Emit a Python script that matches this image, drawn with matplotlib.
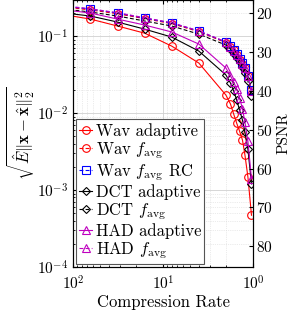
import numpy as np
import matplotlib
matplotlib.use("Agg")
import matplotlib.pyplot as plt

plt.rcParams['font.family'] = ['cmr10', 'DejaVu Serif']
plt.rcParams['mathtext.fontset'] = 'cm'
plt.rcParams['axes.formatter.use_mathtext'] = True

# compression rates (128 point lies outside the x range, lines run off the edge)
cr = [128, 64, 32, 16, 8, 4, 2, 1.78, 1.64, 1.52, 1.41, 1.31, 1.23, 1.14, 1.04]

# error values
wav_adaptive = [0.19, 0.166, 0.135, 0.109, 0.074, 0.0446, 0.0171, 0.0131, 0.0097,
                0.0074, 0.0058, 0.00446, 0.00285, 0.00148, 0.00047]
wav_favg = [0.24, 0.218, 0.195, 0.168, 0.145, 0.114, 0.082, 0.073, 0.065,
            0.057, 0.049, 0.044, 0.038, 0.030, 0.0197]
wav_favg_rc = [0.245, 0.224, 0.199, 0.171, 0.148, 0.116, 0.0835, 0.0741, 0.0658,
               0.0583, 0.0502, 0.0446, 0.0384, 0.0303, 0.0199]
dct_adaptive = [0.20, 0.182, 0.152, 0.123, 0.097, 0.0638, 0.0312, 0.0245, 0.0193,
                0.0148, 0.0109, 0.0081, 0.00566, 0.0034, 0.0012]
dct_favg = [0.225, 0.205, 0.182, 0.157, 0.135, 0.106, 0.0764, 0.0678, 0.0583,
            0.0518, 0.0459, 0.0395, 0.0330, 0.0260, 0.0166]
had_adaptive = [0.22, 0.199, 0.166, 0.139, 0.113, 0.0787, 0.0384, 0.0303, 0.0253,
                0.0205, 0.0157, 0.0113, 0.0076, 0.0043, 0.0014]
had_favg = [0.248, 0.226, 0.201, 0.173, 0.149, 0.117, 0.084, 0.073, 0.064,
            0.057, 0.050, 0.044, 0.038, 0.030, 0.0195]

psnr_ticks = [20, 30, 40, 50, 60, 70, 80]

dash = (0, (3.5, 2))
series = [
    ("Wav adaptive", wav_adaptive, 'r', 'o', '-'),
    ("Wav $f_{\\rm avg}$", wav_favg, 'r', 'o', dash),
    ("Wav $f_{\\rm avg}$ RC", wav_favg_rc, 'b', 's', dash),
    ("DCT adaptive", dct_adaptive, 'k', 'D', '-'),
    ("DCT $f_{\\rm avg}$", dct_favg, 'k', 'D', dash),
    ("HAD adaptive", had_adaptive, 'm', '^', '-'),
    ("HAD $f_{\\rm avg}$", had_favg, 'm', '^', dash),
]

fig = plt.figure(figsize=(2.91, 3.11), dpi=100)
ax = fig.add_axes([0.2509, 0.1415, 0.6186, 0.8585])

for label, vals, c, m, ls in series:
    ms = 5.5 if m != 'D' else 4.5
    ax.plot(cr, vals, color=c, marker=m, linestyle=ls, lw=0.8, ms=ms,
            mfc='none', mew=0.8, label=label)

ax.set_xscale('log')
ax.set_yscale('log')
ax.set_xlim(100, 1)
ax.set_ylim(1e-4, 0.294)
ax.grid(True, which='major', color='#d0d0d0', lw=0.6, ls='-')
ax.grid(True, which='minor', color='#d8d8d8', lw=0.5, ls=':')
ax.tick_params(which='both', direction='in', labelsize=11, top=True)
ax.tick_params(which='major', length=3)
ax.tick_params(which='minor', length=1.5)
ax.tick_params(axis='x', pad=5)
ax.set_xlabel("Compression Rate", fontsize=12, labelpad=2)
ax.set_ylabel(r"$\sqrt{\hat{E}\|\mathbf{x}-\hat{\mathbf{x}}\|_2^2}$", fontsize=12,
              labelpad=0)

leg = ax.legend(loc='lower left', fontsize=12, handlelength=0.8, handletextpad=0.2,
                borderpad=0.2, labelspacing=0.08, borderaxespad=0.15,
                fancybox=False, edgecolor='#555555', framealpha=1)
leg.get_frame().set_linewidth(0.8)

ax2 = ax.twinx()
ax2.set_ylim(85.3, 16.7)
ax2.set_yticks(psnr_ticks)
ax2.tick_params(direction='in', labelsize=11, length=3, pad=2)
ax2.set_ylabel("PSNR", fontsize=11, labelpad=3)

fig.savefig("out.png", dpi=100)
